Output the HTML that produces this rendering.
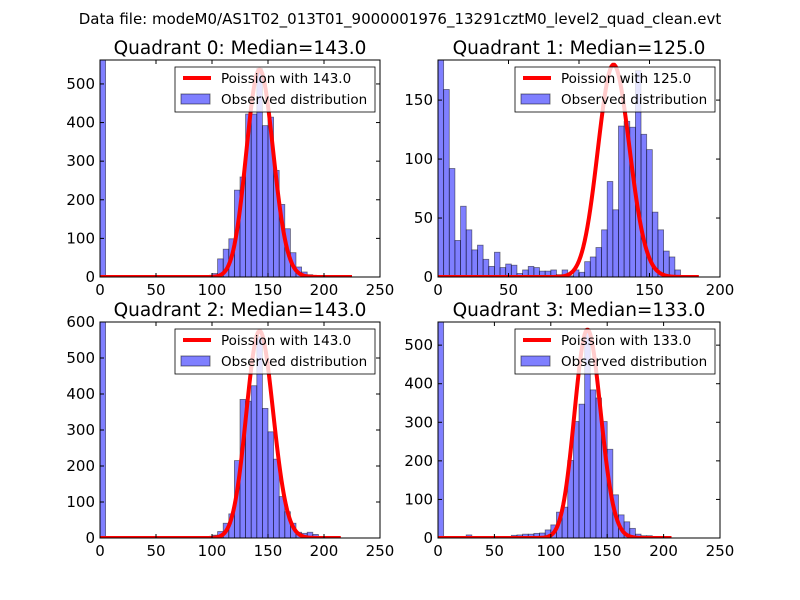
<!DOCTYPE html>
<html><head><meta charset="utf-8"><style>
body{margin:0;background:#fff}
svg{display:block;font-family:"DejaVu Sans","Liberation Sans",sans-serif}
</style></head><body>
<svg id="fig" width="800" height="600" viewBox="0 0 800 600">
<rect width="800" height="600" fill="#fff"/>
<text x="400" y="24" text-anchor="middle" font-size="15">Data file: modeM0/AS1T02_013T01_9000001976_13291cztM0_level2_quad_clean.evt</text>
</svg>
<script>
// ---- data ----
const q0Counts = [600,0,0,0,0,0,0,0,0,0,0,0,0,0,0,0,0,0,0,0,9,47,72,99,225,259,422,422,540,392,414,276,188,125,63,26,13,6,3,1,0,0,0,0,0];
const q1Counts = [200,159,92,31,60,40,23,27,15,9,21,8,11,10,3,6,9,8,5,5,6,2,6,1,6,4,13,17,25,40,81,57,128,132,127,175,121,108,55,40,22,17,6,1,1,0];
const q2Counts = [620,0,0,0,0,0,0,0,0,0,0,0,0,0,0,0,0,0,0,0,8,18,41,67,215,385,380,423,559,360,295,219,115,73,41,16,13,16,10,3,0,0,0];
const q3Counts = [600,0,0,0,0,8,4,4,3,2,1,2,4,7,8,10,10,12,13,21,34,67,80,201,302,347,536,384,363,302,230,112,60,42,25,10,6,6,0,0,0,0];
const binWidths = [5,4,5,5];
const medians = [143.0,125.0,143.0,133.0];
const curvePeaks = [537,180,575,540];
const curveEnds = [225,185,215,207];
const xMaxes = [250,200,250,250];
const yMaxes = [562,184,600,560];
const xTicks = [[0,50,100,150,200,250],[0,50,100,150,200],[0,50,100,150,200,250],[0,50,100,150,200,250]];
const yTicks = [[0,100,200,300,400,500],[0,50,100,150],[0,100,200,300,400,500,600],[0,100,200,300,400,500]];
// ---- layout ----
const boxes = [{l:100,r:380,t:60,b:277},{l:438,r:720,t:60,b:277},{l:100,r:380,t:322,b:538},{l:438,r:720,t:322,b:538}];
const allCounts = [q0Counts,q1Counts,q2Counts,q3Counts];
const NS="http://www.w3.org/2000/svg";
const fig=document.getElementById('fig');
function mk(tag,attrs,parent){const e=document.createElementNS(NS,tag);for(const k in attrs)e.setAttribute(k,attrs[k]);(parent||fig).appendChild(e);return e;}
function logPmf(k,lam){let lf=0;for(let i=2;i<=k;i++)lf+=Math.log(i);return k*Math.log(lam)-lam-lf;}
for(let q=0;q<4;q++){
  const B=boxes[q];
  const xs=v=>B.l+v/xMaxes[q]*(B.r-B.l);
  const ys=v=>B.b-v/yMaxes[q]*(B.b-B.t);
  const g=mk('g',{});
  
  
  const cid='clip'+q;
  const cp=mk('clipPath',{id:cid},g);mk('rect',{x:B.l,y:B.t,width:B.r-B.l,height:B.b-B.t},cp);
  const bars=mk('g',{'clip-path':'url(#'+cid+')'},g);
  allCounts[q].forEach((c,i)=>{
    if(c<=0)return;
    const x0=xs(i*binWidths[q]),x1=xs((i+1)*binWidths[q]);
    const r=mk('rect',{x:x0,y:ys(c),width:x1-x0,height:ys(0)-ys(c),fill:'rgba(0,0,255,0.5)',stroke:'rgba(0,0,0,0.5)','stroke-width':0.8},bars);
    
    
  });
  const lam=medians[q];
  const pk=Math.exp(logPmf(Math.floor(lam),lam));
  let d='';
  for(let k=0;k<=curveEnds[q];k++){const v=Math.exp(logPmf(k,lam))/pk*curvePeaks[q];d+=(k?'L':'M')+xs(k).toFixed(2)+','+ys(v).toFixed(2);}
  const line=mk('path',{d:d,fill:'none',stroke:'#ff0000','stroke-width':4,'stroke-linejoin':'round'},mk('g',{'clip-path':'url(#'+cid+')'},g));
  
  
  mk('rect',{x:B.l,y:B.t,width:B.r-B.l,height:B.b-B.t,fill:'none',stroke:'#000','stroke-width':1},g);
  xTicks[q].forEach(v=>{
    const x=xs(v);
    mk('line',{x1:x,x2:x,y1:B.b,y2:B.b-4,stroke:'#000'},g);
    mk('line',{x1:x,x2:x,y1:B.t,y2:B.t+4,stroke:'#000'},g);
    const t=mk('text',{x:x,y:B.b+18,'text-anchor':'middle','font-size':15},g);t.textContent=v;
    
    
  });
  yTicks[q].forEach(v=>{
    const y=ys(v);
    mk('line',{x1:B.l,x2:B.l+4,y1:y,y2:y,stroke:'#000'},g);
    mk('line',{x1:B.r,x2:B.r-4,y1:y,y2:y,stroke:'#000'},g);
    const t=mk('text',{x:B.l-5,y:y+5,'text-anchor':'end','font-size':15},g);t.textContent=v;
    
    
  });
  const title=mk('text',{x:(B.l+B.r)/2,y:B.t-6,'text-anchor':'middle','font-size':18.5},g);
  title.textContent='Quadrant '+q+': Median='+lam.toFixed(1);
  
  
  const lg=mk('g',{},g);
  
  
  const lx=B.r-205,ly=B.t+7;
  mk('rect',{x:lx,y:ly,width:200,height:45,fill:'rgba(255,255,255,0.8)',stroke:'#000','stroke-width':0.8},lg);
  mk('line',{x1:lx+8,x2:lx+36,y1:ly+11,y2:ly+11,stroke:'#ff0000','stroke-width':4},lg);
  const t1=mk('text',{x:lx+46,y:ly+16,'font-size':13.5},lg);t1.textContent='Poission with '+lam.toFixed(1);
  
  
  mk('rect',{x:lx+6,y:ly+27,width:29,height:10,fill:'rgba(0,0,255,0.5)',stroke:'rgba(0,0,0,0.5)'},lg);
  const t2=mk('text',{x:lx+46,y:ly+37,'font-size':13.5},lg);t2.textContent='Observed distribution';
  
  
}
</script>
</body></html>
